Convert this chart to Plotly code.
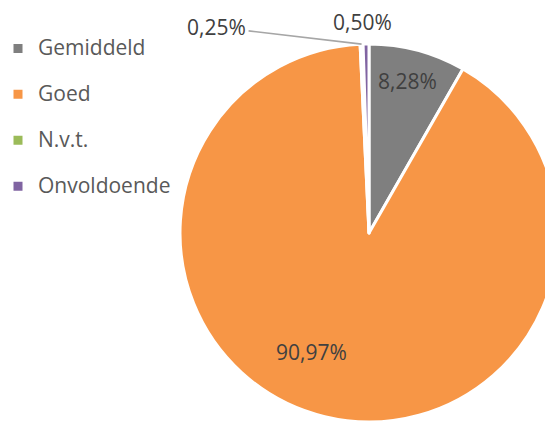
import math
import plotly.graph_objects as go

labels = ["Gemiddeld", "Goed", "N.v.t.", "Onvoldoende"]
values = [8.28, 90.97, 0.25, 0.50]
colors = ["#7f7f7f", "#f79646", "#9bbb59", "#8064a2"]

W, H = 553, 423
DOM_X = [0.3110, 0.9946]
DOM_Y = [0.0213, 0.9149]
NBSP = "\u00a0"

# legend labels: bigger legend font size gives the row spacing, span keeps text size
legend_labels = [f"<span style='font-size:21px;baseline-shift:6px'>{l}</span>" for l in labels]

pct_fmt = "%{percent:.2%}"
templates = [
    pct_fmt + "<span style='font-size:2px;baseline-shift:-19px'>" + NBSP + "</span>",
    NBSP + "<br>" + NBSP + "<br>" + pct_fmt + NBSP * 13,
    "",
    "",
]
text_pos = ["inside", "inside", "none", "none"]

fig = go.Figure(go.Pie(
    labels=legend_labels,
    values=values,
    sort=False,
    direction="clockwise",
    rotation=0,
    marker=dict(colors=colors, line=dict(color="white", width=3)),
    texttemplate=templates,
    textposition=text_pos,
    textfont=dict(family="Open Sans", size=21, color="#404040"),
    insidetextorientation="horizontal",
    hoverinfo="label+percent",
    domain=dict(x=DOM_X, y=DOM_Y),
    automargin=False,
))

# pie geometry (pixels) derived from the domain, used to anchor the small-slice labels
cx = (DOM_X[0] + DOM_X[1]) / 2 * W
cy = (1 - (DOM_Y[0] + DOM_Y[1]) / 2) * H
R = min((DOM_X[1] - DOM_X[0]) * W, (DOM_Y[1] - DOM_Y[0]) * H) / 2
total = sum(values)
cum = 0.0
mid_angles = []
for v in values:
    mid_angles.append((cum + v / 2) / total * 2 * math.pi)
    cum += v


def edge_point(i):
    a = mid_angles[i]
    px = cx + R * math.sin(a)
    py = cy - R * math.cos(a)
    return px / W, 1 - py / H


def pct_text(v):
    return f"{v / total * 100:.2f}".replace(".", ",") + "%"


annotations = []
# N.v.t. label with leader line
x2, y2 = edge_point(2)
annotations.append(dict(
    x=x2, y=y2, xref="paper", yref="paper",
    text=pct_text(values[2]),
    showarrow=True, arrowhead=0, arrowwidth=1.6, arrowcolor="#a6a6a6",
    ax=-145, ay=-17, standoff=0, borderpad=2,
    font=dict(family="Open Sans", size=21, color="#404040"),
))
# Onvoldoende label just above its slice
x3, y3 = edge_point(3)
annotations.append(dict(
    x=x3, y=y3, xref="paper", yref="paper",
    text=pct_text(values[3]),
    showarrow=False, xanchor="center", yanchor="bottom",
    xshift=-4, yshift=7, borderpad=0,
    font=dict(family="Open Sans", size=21, color="#404040"),
))

fig.update_layout(
    width=W, height=H,
    margin=dict(l=0, r=0, t=0, b=0, autoexpand=False),
    separators=",.",
    paper_bgcolor="white",
    plot_bgcolor="white",
    showlegend=True,
    annotations=annotations,
    legend=dict(
        x=-10 / W, y=1 - 12.5 / H, xanchor="left", yanchor="top",
        font=dict(family="Open Sans", size=33, color="#595959"),
        bgcolor="rgba(0,0,0,0)",
    ),
)

fig.write_html("out.html")
